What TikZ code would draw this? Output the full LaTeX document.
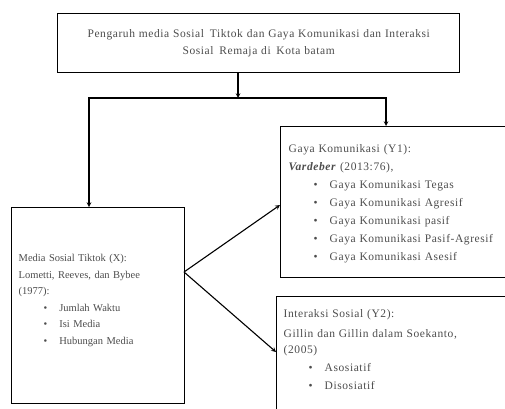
\documentclass[tikz,border=0pt]{standalone}
\usepackage{fontspec}
\setmainfont{Liberation Serif}[LetterSpace=5]
\newfontfamily\rapat{Liberation Serif}
\newcommand{\butir}[1]{\hspace*{25pt}\textbullet\hspace{12pt}#1}
\begin{document}
\begin{tikzpicture}[x=1pt,y=-1pt,
    box/.style = {draw,line width=1.4pt,text=black!70,align=left,inner ysep=0pt},
    arrow/.style = {line width=1.1pt,-stealth}]
    \useasboundingbox (0,0) rectangle (505,408);
    \clip (0,0) rectangle (505,408);

    \node[box,align=center,anchor=north west,minimum width=402pt,minimum height=59pt,text width=390pt,
          font=\fontsize{11.5}{17}\selectfont] (judul) at (57,13)
        {Pengaruh media Sosial\, Tiktok dan Gaya Komunikasi dan Interaksi\\ Sosial\, Remaja di\, Kota batam};
    \node[box,anchor=north west,minimum width=173pt,minimum height=196pt,text width=159pt,inner xsep=7pt,
          font=\rapat\fontsize{10.5}{16.5}\selectfont] (medsos) at (11,207)
        {Media Sosial Tiktok (X):\\ Lometti, Reeves, dan Bybee\\ (1977):\\
         \butir{Jumlah Waktu}\\ \butir{Isi Media}\\ \butir{Hubungan Media}\\[-4pt]\mbox{}};
    \node[box,anchor=north west,minimum height=151pt,text width=222pt,inner xsep=8pt,
          font=\fontsize{11.5}{18}\selectfont] (gaya) at (280,126)
        {\rule{0pt}{11pt}Gaya Komunikasi (Y1):\\ \textbf{\textit{Vardeber}} (2013:76),\\
         \butir{Gaya Komunikasi Tegas}\\ \butir{Gaya Komunikasi Agresif}\\ \butir{Gaya Komunikasi pasif}\\
         \butir{Gaya Komunikasi Pasif-Agresif}\\ \butir{Gaya Komunikasi Asesif}};
    \node[box,anchor=north west,text width=226pt,inner xsep=7pt,inner ysep=13pt,
          font=\fontsize{11.5}{18}\selectfont] (interaksi) at (276,296)
        {Interaksi Sosial (Y2):\\[2pt] \makebox[214pt][s]{Gillin dan Gillin dalam Soekanto,}\\[-2pt] (2005)\\
         \butir{Asosiatif}\\ \butir{Disosiatif}\\[40pt]\mbox{}};

    \coordinate (bawah) at (238,72);
    \coordinate (cabang) at (238,98);
    \coordinate (pangkal) at (184,272);
    \draw[arrow] (bawah) -- (cabang);
    \draw[arrow] (cabang) -| (medsos.north -| 89,0);
    \draw[arrow] (cabang) -| (gaya.north -| 386,0);
    \draw[arrow] (pangkal) -- (gaya.west |- 0,205);
    \draw[arrow] (pangkal) -- (interaksi.west |- 0,352);
\end{tikzpicture}
\end{document}
